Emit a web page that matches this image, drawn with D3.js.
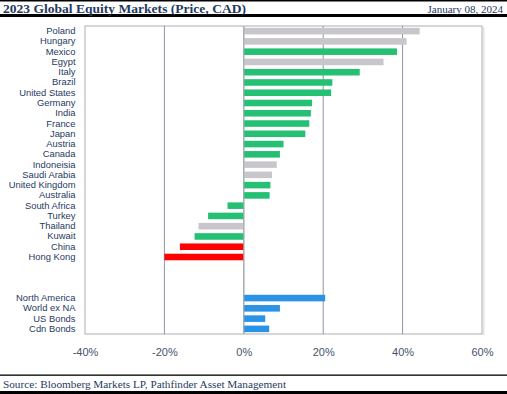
<!DOCTYPE html>
<html>
<head>
<meta charset="utf-8">
<script src="https://cdn.jsdelivr.net/npm/d3@7"></script>
<style>
  body { margin: 0; background: #fff; }
  svg { display: block; }
</style>
</head>
<body>
<svg id="chart" width="507" height="394"></svg>
<script>
// 2023 returns, price in CAD (%)
const countries = ["Poland", "Hungary", "Mexico", "Egypt", "Italy", "Brazil", "United States",
  "Germany", "India", "France", "Japan", "Austria", "Canada", "Indoneisia", "Saudi Arabia",
  "United Kingdom", "Australia", "South Africa", "Turkey", "Thailand", "Kuwait", "China", "Hong Kong"];
const countryReturns = [44.3, 41.0, 38.6, 35.2, 29.2, 22.3, 22.0, 17.2, 16.9, 16.5, 15.5, 10.0,
  9.1, 8.3, 7.1, 6.7, 6.5, -4.1, -9.0, -11.4, -12.4, -16.1, -20.0];

const regions = ["North America", "World ex NA", "US Bonds", "Cdn Bonds"];
const regionReturns = [20.5, 9.1, 5.4, 6.4];

// which countries are greyed out / flagged red in the original
const greyed = ["Poland", "Hungary", "Egypt", "Indoneisia", "Saudi Arabia", "Thailand"];
const flagged = ["China", "Hong Kong"];

const gaps = ["gap1", "gap2", "gap3"];
const xTicks = [-40, -20, 0, 20, 40, 60];

const titleText = "2023 Global Equity Markets (Price, CAD)";
const dateText = "January 08, 2024";
const sourceText = "Source: Bloomberg Markets LP, Pathfinder Asset Management";

const svg = d3.select("#chart");
const navy = "#1f3a5f";
const serif = "'Liberation Serif', 'DejaVu Serif', serif";
const sans = "'Liberation Sans', Arial, sans-serif";

// rows
let rows = countries.map((c, i) => ({name: c, value: countryReturns[i], kind: "country"}));
rows = rows.concat(regions.map((c, i) => ({name: c, value: regionReturns[i], kind: "region"})));

let x = d3.scaleLinear().domain([-40, 60]).range([85, 482]);
let y = d3.scaleBand()
  .domain(countries.concat(gaps, regions))
  .range([26, 334])
  .paddingInner(0.36)
  .paddingOuter(0.18);

// header and footer rules
svg.append("rect").attr("x", 0).attr("y", 0).attr("width", 507).attr("height", 1.5).attr("fill", "#000");
svg.append("rect").attr("x", 0).attr("y", 14).attr("width", 507).attr("height", 3).attr("fill", "#000");
svg.append("rect").attr("x", 0).attr("y", 374.5).attr("width", 507).attr("height", 1.3).attr("fill", "#000");
svg.append("rect").attr("x", 0).attr("y", 391).attr("width", 507).attr("height", 3).attr("fill", "#000");

svg.append("text")
  .attr("x", 3).attr("y", 12.5)
  .attr("font-family", serif).attr("font-size", 13.5).attr("font-weight", "bold")
  .attr("fill", navy)
  .attr("textLength", 243).attr("lengthAdjust", "spacingAndGlyphs")
  .text(titleText);

svg.append("text")
  .attr("x", 503).attr("y", 12.5)
  .attr("text-anchor", "end")
  .attr("font-family", serif).attr("font-size", 11)
  .attr("fill", navy)
  .text(dateText);

svg.append("text")
  .attr("x", 3).attr("y", 388)
  .attr("font-family", serif).attr("font-size", 11)
  .attr("fill", navy)
  .attr("textLength", 283).attr("lengthAdjust", "spacingAndGlyphs")
  .text(sourceText);

// plot frame + gridlines
svg.append("rect")
  .attr("x", 483).attr("y", 27).attr("width", 1.5).attr("height", 308)
  .attr("fill", "#e3e3e5");
svg.append("rect")
  .attr("x", 85).attr("y", 26).attr("width", 397).attr("height", 308)
  .attr("fill", "#fff").attr("stroke", "#a9adb4").attr("stroke-width", 1);

svg.append("g")
  .selectAll("line")
  .data(xTicks.slice(1, -1))
  .join("line")
  .attr("x1", d => x(d)).attr("x2", d => x(d))
  .attr("y1", 26).attr("y2", 334)
  .attr("stroke", "#8e95a1").attr("stroke-width", 1);

// bars
function barColor(d) {
  if (d.kind === "region") return "#2a93e6";
  if (flagged.includes(d.name)) return "#ff0000";
  if (greyed.includes(d.name)) return "#c8c6ca";
  return "#25c074";
}

svg.append("g")
  .selectAll("rect")
  .data(rows)
  .join("rect")
  .attr("x", d => x(Math.min(0, d.value)))
  .attr("y", d => y(d.name))
  .attr("width", d => Math.abs(x(d.value) - x(0)))
  .attr("height", y.bandwidth())
  .attr("fill", barColor);

// zero line over bars
svg.append("line")
  .attr("x1", x(0)).attr("x2", x(0)).attr("y1", 26).attr("y2", 334)
  .attr("stroke", "#a9adb4").attr("stroke-width", 1);

// category axis
let yAxis = d3.axisLeft(y).tickSize(0).tickPadding(0)
  .tickFormat(d => gaps.includes(d) ? "" : d);
let yg = svg.append("g").attr("transform", "translate(75.5,0)").call(yAxis);
yg.select(".domain").remove();
yg.selectAll("text")
  .attr("font-family", sans).attr("font-size", 9.4)
  .attr("fill", navy);

// value axis
let xAxis = d3.axisBottom(x).tickValues(xTicks).tickSize(0).tickPadding(0)
  .tickFormat(d => d + "%");
let xg = svg.append("g").attr("transform", "translate(0,348)").call(xAxis);
xg.select(".domain").remove();
xg.selectAll("text")
  .attr("font-family", sans).attr("font-size", 11)
  .attr("fill", "#44546a");
</script>
</body>
</html>
